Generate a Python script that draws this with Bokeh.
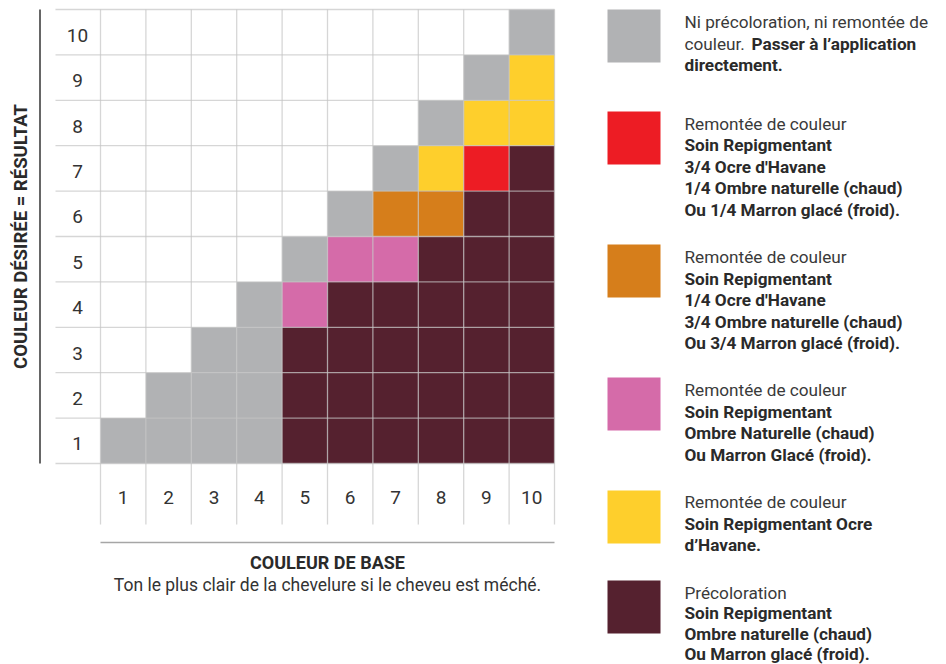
import math
from bokeh.plotting import figure
from bokeh.models import Range1d, ColumnDataSource
from bokeh.core.properties import value
from bokeh.embed import file_html
from bokeh.resources import INLINE

# ---------------- data ----------------
base_labels = ["1", "2", "3", "4", "5", "6", "7", "8", "9", "10"]
desired_labels = ["1", "2", "3", "4", "5", "6", "7", "8", "9", "10"]

# one string per desired level (1 -> 10), one code per base level (1 -> 10)
# W white, G gray, R red, O orange, P pink, Y yellow, D dark
cell_rows = [
    "GGGGDDDDDD",
    "WGGGDDDDDD",
    "WWGGDDDDDD",
    "WWWGPDDDDD",
    "WWWWGPPDDD",
    "WWWWWGOODD",
    "WWWWWWGYRD",
    "WWWWWWWGYY",
    "WWWWWWWWGY",
    "WWWWWWWWWG",
]

category_colors = {
    "G": "#b1b2b4",
    "R": "#ed1c24",
    "O": "#d67e1b",
    "P": "#d56ba9",
    "Y": "#fecf2c",
    "D": "#55212f",
}

legend_order = ["G", "R", "O", "P", "Y", "D"]
legend_texts = [
    [[("Ni précoloration, ni remontée de", "normal")],
     [("couleur.", "normal"), ("Passer à l’application", "bold")],
     [("directement.", "bold")]],
    [[("Remontée de couleur", "normal")],
     [("Soin Repigmentant", "bold")],
     [("3/4 Ocre d'Havane", "bold")],
     [("1/4 Ombre naturelle (chaud)", "bold")],
     [("Ou 1/4 Marron glacé (froid).", "bold")]],
    [[("Remontée de couleur", "normal")],
     [("Soin Repigmentant", "bold")],
     [("1/4 Ocre d'Havane", "bold")],
     [("3/4 Ombre naturelle (chaud)", "bold")],
     [("Ou 3/4 Marron glacé (froid).", "bold")]],
    [[("Remontée de couleur", "normal")],
     [("Soin Repigmentant", "bold")],
     [("Ombre Naturelle (chaud)", "bold")],
     [("Ou Marron Glacé (froid).", "bold")]],
    [[("Remontée de couleur", "normal")],
     [("Soin Repigmentant Ocre", "bold")],
     [("d’Havane.", "bold")]],
    [[("Précoloration", "normal")],
     [("Soin Repigmentant", "bold")],
     [("Ombre naturelle (chaud)", "bold")],
     [("Ou Marron glacé (froid).", "bold")]],
]

y_title = "COULEUR DÉSIRÉE = RÉSULTAT"
x_title = "COULEUR DE BASE"
x_subtitle = "Ton le plus clair de la chevelure si le cheveu est méché."

# ---------------- layout ----------------
PW, PH = 946, 664
CELL = 45.4           # pixel size of a cell
GX0, GY0 = 100, 463   # picture px: left of base 1, bottom of desired 1
FONT = "Roboto"
TXT = "#2a2a2a"
LEG_FS = "17.2px"


def dx(px):
    return (px - GX0) / CELL + 0.5


def dy(py):
    return (GY0 - py) / CELL + 0.5


p = figure(width=PW, height=PH, output_backend="svg", toolbar_location=None,
           x_range=Range1d(dx(0), dx(PW)), y_range=Range1d(dy(PH), dy(0)),
           min_border=0, x_axis_location=None, y_axis_location=None)
p.grid.visible = False
p.outline_line_color = None
p.background_fill_color = "white"
p.border_fill_color = "white"

# cells
cx, cy, cc = [], [], []
for ri, row in enumerate(cell_rows):
    for ci, code in enumerate(row):
        if code in category_colors:
            cx.append(ci + 1)
            cy.append(ri + 1)
            cc.append(category_colors[code])
p.rect(x="x", y="y", width=1, height=1, fill_color="c", line_color=None,
       source=ColumnDataSource(dict(x=cx, y=cy, c=cc)))

n = len(base_labels)
# grid lines
hx0, hx1, hy = [], [], []
for k in range(n + 1):
    hx0.append(dx(55))
    hx1.append(n + 0.5)
    hy.append(k + 0.5)
p.segment(x0=hx0, y0=hy, x1=hx1, y1=hy, line_color="#c4c4c4", line_alpha=0.7, line_width=1.3)
vx, vy0, vy1 = [], [], []
for k in range(n + 1):
    vx.append(k + 0.5)
    vy0.append(dy(524))
    vy1.append(n + 0.5)
p.segment(x0=vx, y0=vy0, x1=vx, y1=vy1, line_color="#c4c4c4", line_alpha=0.7, line_width=1.3)

# tick labels
p.text(x=[dx(77)] * n, y=[i + 1 - 0.07 for i in range(n)], text=desired_labels,
       text_font=value(FONT), text_font_size="19px", text_color="#333333",
       text_align="center", text_baseline="middle")
p.text(x=[i + 1 for i in range(n)], y=[dy(497)] * n, text=base_labels,
       text_font=value(FONT), text_font_size="19px", text_color="#333333",
       text_align="center", text_baseline="middle")

# axis decorations
p.segment(x0=[dx(39.5)], y0=[dy(9)], x1=[dx(39.5)], y1=[dy(463)], line_color="#333333", line_width=1.5)
p.segment(x0=[dx(100)], y0=[dy(542)], x1=[dx(554)], y1=[dy(542)], line_color="#a6a6a6", line_width=1.5)

p.text(x=[dx(20)], y=[dy(236)], text=[y_title], angle=math.pi / 2,
       text_font=value(FONT), text_font_size="18.5px", text_font_style="bold",
       text_color=TXT, text_align="center", text_baseline="middle")
p.text(x=[dx(327)], y=[dy(562)], text=[x_title],
       text_font=value(FONT), text_font_size="18px", text_font_style="bold",
       text_color=TXT, text_align="center", text_baseline="middle")
p.text(x=[dx(327)], y=[dy(584)], text=[x_subtitle],
       text_font=value(FONT), text_font_size="17.5px", text_color="#333333",
       text_align="center", text_baseline="middle")

# legend
sq_tops = [9, 111, 244, 377, 490, 580]
first_line = [21.5, 123, 256.5, 389.5, 501.5, 592]
line_gap = [21.5, 21.5, 21.5, 21.5, 21.5, 20.6]
SQ = 53
LX = 684
second_seg_x = 751
for code, top, y0, gap, lines in zip(legend_order, sq_tops, first_line, line_gap, legend_texts):
    p.quad(left=[dx(607)], right=[dx(607 + SQ)], top=[dy(top)], bottom=[dy(top + SQ)],
           fill_color=category_colors[code], line_color=None)
    for li, segs in enumerate(lines):
        ypx = y0 + li * gap
        for si, (txt, style) in enumerate(segs):
            xpx = LX if si == 0 else second_seg_x
            p.text(x=[dx(xpx)], y=[dy(ypx)], text=[txt],
                   text_font=value(FONT), text_font_size=LEG_FS,
                   text_font_style=style,
                   text_color=TXT if style == "bold" else "#3a3a3a",
                   text_align="left", text_baseline="middle")

open("out.html", "w").write(file_html(p, INLINE))
